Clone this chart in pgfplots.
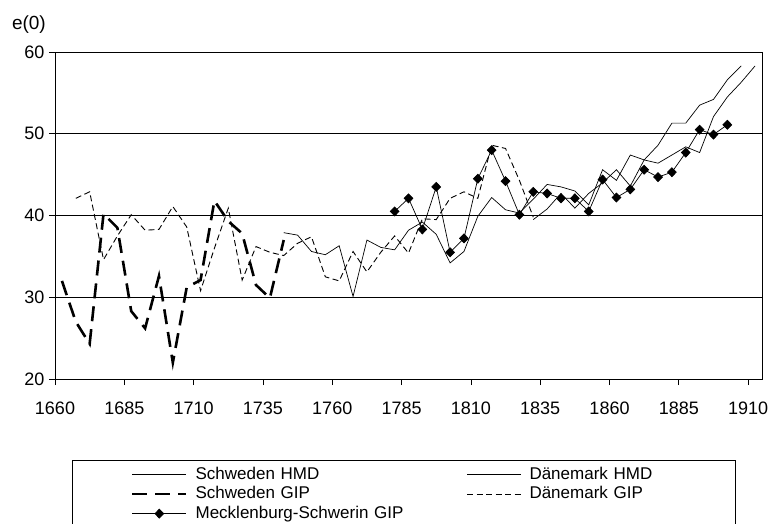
\documentclass[border=0pt]{standalone}
\usepackage{pgfplots}
\pgfplotsset{compat=1.18}
\usepackage{fontspec}
\setmainfont{Liberation Sans}

\pgfplotstableread{
x y
1742.5 37.9
1747.5 37.6
1752.5 35.6
1757.5 35.2
1762.5 36.3
1767.5 30.1
1772.5 37.0
1777.5 36.1
1782.5 35.8
1787.5 38.2
1792.5 39.2
1797.5 37.7
1802.5 34.2
1807.5 35.6
1812.5 39.9
1817.5 42.2
1822.5 40.7
1827.5 40.3
1832.5 42.0
1837.5 43.8
1842.5 43.5
1847.5 43.0
1852.5 41.3
1857.5 45.6
1862.5 44.3
1867.5 47.4
1872.5 46.8
1877.5 46.4
1882.5 47.4
1887.5 48.4
1892.5 47.7
1897.5 52.1
1902.5 54.5
1907.5 56.3
1912.5 58.3
}\swehmd

\pgfplotstableread{
x y
1832.5 39.5
1837.5 40.8
1842.5 42.7
1847.5 40.9
1852.5 42.7
1857.5 44.0
1862.5 45.6
1867.5 43.6
1872.5 46.8
1877.5 48.6
1882.5 51.3
1887.5 51.3
1892.5 53.5
1897.5 54.2
1902.5 56.6
1907.5 58.3
}\denhmd

\pgfplotstableread{
x y
1662.5 32.0
1667.5 27.0
1672.5 24.3
1677.5 40.2
1682.5 38.5
1687.5 28.3
1692.5 26.2
1697.5 32.6
1702.5 22.0
1707.5 31.2
1712.5 32.1
1717.5 41.8
1722.5 39.3
1727.5 37.8
1732.5 31.5
1737.5 29.9
1742.5 37.0
}\swegip

\pgfplotstableread{
x y
1667.5 42.1
1672.5 42.9
1677.5 34.6
1682.5 37.5
1687.5 40.1
1692.5 38.2
1697.5 38.3
1702.5 41.1
1707.5 38.6
1712.5 30.8
1717.5 36.0
1722.5 40.9
1727.5 32.1
1732.5 36.2
1737.5 35.5
1742.5 35.1
1747.5 36.6
1752.5 37.4
1757.5 32.5
1762.5 32.0
1767.5 35.6
1772.5 33.1
1777.5 35.5
1782.5 37.5
1787.5 35.4
1792.5 39.6
1797.5 39.5
1802.5 42.1
1807.5 42.9
1812.5 42.1
1817.5 48.6
1822.5 48.2
1827.5 44.3
1832.5 39.8
}\dengip

\pgfplotstableread{
x y
1782.5 40.5
1787.5 42.1
1792.5 38.3
1797.5 43.5
1802.5 35.5
1807.5 37.2
1812.5 44.5
1817.5 48.0
1822.5 44.2
1827.5 40.1
1832.5 42.9
1837.5 42.7
1842.5 42.1
1847.5 42.1
1852.5 40.5
1857.5 44.4
1862.5 42.2
1867.5 43.2
1872.5 45.6
1877.5 44.7
1882.5 45.3
1887.5 47.7
1892.5 50.5
1897.5 49.9
1902.5 51.1
}\meck

\begin{document}
\begin{tikzpicture}[x=1pt,y=1pt]
\path[use as bounding box] (-55,-144) rectangle (726,379);
\begin{axis}[
  scale only axis, width=707pt, height=327pt,
  xmin=1660, xmax=1915, ymin=20, ymax=60,
  xtick={1660,1685,...,1910}, ytick={20,30,...,60},
  ymajorgrids, grid style={black, line width=0.7pt},
  axis line style={black, line width=0.7pt},
  tick align=outside, major tick length=6pt,
  tick style={black, line width=0.7pt},
  xtick pos=bottom, ytick pos=left,
  /pgf/number format/assume math mode=true,
  /pgf/number format/set thousands separator={},
  tick label style={font=\fontsize{18}{21}\selectfont},
  xticklabel style={yshift=-13pt},
  yticklabel style={xshift=-1pt},
  legend style={at={(rel axis cs:0.103,-0.262)}, anchor=north west,
    draw=none, fill=none, font=\fontsize{17}{20}\selectfont,
    nodes={inner sep=0pt, text height=12.5pt, text depth=3pt},
    /tikz/every odd column/.append style={column sep=8pt},
    /tikz/every even column/.append style={text width=271pt},
    row sep=4pt},
  legend columns=2,
  legend cell align=left,
  legend image code/.code={\draw[mark repeat=2,mark phase=2,#1] plot coordinates {(0pt,0pt) (27pt,0pt) (54pt,0pt)};},
  clip=false
]
\addplot[black, line width=0.7pt, no marks] table {\swehmd};
\addlegendentry{Schweden HMD}
\addplot[black, line width=0.7pt, no marks] table {\denhmd};
\addlegendentry{Dänemark HMD}
\addplot[black, line width=2.6pt, dash pattern=on 15pt off 8pt, no marks] table {\swegip};
\addlegendentry{Schweden GIP}
\addplot[black, line width=0.9pt, dash pattern=on 6pt off 3.5pt, no marks] table {\dengip};
\addlegendentry{Dänemark GIP}
\addplot[black, line width=0.7pt, mark=diamond*, mark size=4.5pt, mark options={solid, fill=black, xscale=1.3}] table {\meck};
\addlegendentry{Mecklenburg-Schwerin GIP}
\node[anchor=east, inner sep=0pt, font=\fontsize{19}{22}\selectfont] at (rel axis cs:0,1) [xshift=-9pt, yshift=27pt] {e(0)};
\end{axis}
\draw[line width=0.7pt] (17,-149) rectangle (680,-81);
\end{tikzpicture}
\end{document}
